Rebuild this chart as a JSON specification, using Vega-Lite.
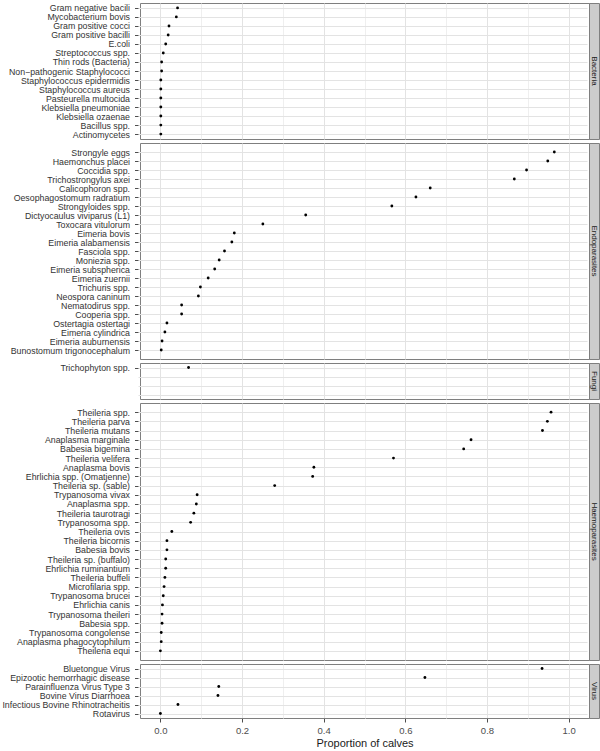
{
  "$schema": "https://vega.github.io/schema/vega-lite/v6.json",
  "padding": {"left": 1, "top": 2, "right": 3, "bottom": 0},
  "bounds": "flush",
  "datasets": {
    "pathogens": [
      {"group": "Bacteria", "pathogen": "Gram negative bacili", "proportion": 0.042},
      {"group": "Bacteria", "pathogen": "Mycobacterium bovis", "proportion": 0.039},
      {"group": "Bacteria", "pathogen": "Gram positive cocci", "proportion": 0.021},
      {"group": "Bacteria", "pathogen": "Gram positive bacilli", "proportion": 0.019},
      {"group": "Bacteria", "pathogen": "E.coli", "proportion": 0.013},
      {"group": "Bacteria", "pathogen": "Streptococcus spp.", "proportion": 0.007},
      {"group": "Bacteria", "pathogen": "Thin rods (Bacteria)", "proportion": 0.003},
      {"group": "Bacteria", "pathogen": "Non−pathogenic Staphylococci", "proportion": 0.003},
      {"group": "Bacteria", "pathogen": "Staphylococcus epidermidis", "proportion": 0.001},
      {"group": "Bacteria", "pathogen": "Staphylococcus aureus", "proportion": 0.001},
      {"group": "Bacteria", "pathogen": "Pasteurella multocida", "proportion": 0.001},
      {"group": "Bacteria", "pathogen": "Klebsiella pneumoniae", "proportion": 0.001},
      {"group": "Bacteria", "pathogen": "Klebsiella ozaenae", "proportion": 0.001},
      {"group": "Bacteria", "pathogen": "Bacillus spp.", "proportion": 0.001},
      {"group": "Bacteria", "pathogen": "Actinomycetes", "proportion": 0.001},
      {"group": "Endoparasites", "pathogen": "Strongyle eggs", "proportion": 0.965},
      {"group": "Endoparasites", "pathogen": "Haemonchus placei", "proportion": 0.949},
      {"group": "Endoparasites", "pathogen": "Coccidia spp.", "proportion": 0.897},
      {"group": "Endoparasites", "pathogen": "Trichostrongylus axei", "proportion": 0.867},
      {"group": "Endoparasites", "pathogen": "Calicophoron spp.", "proportion": 0.661},
      {"group": "Endoparasites", "pathogen": "Oesophagostomum radratium", "proportion": 0.626},
      {"group": "Endoparasites", "pathogen": "Strongyloides spp.", "proportion": 0.567},
      {"group": "Endoparasites", "pathogen": "Dictyocaulus viviparus (L1)", "proportion": 0.356},
      {"group": "Endoparasites", "pathogen": "Toxocara vitulorum", "proportion": 0.251},
      {"group": "Endoparasites", "pathogen": "Eimeria bovis", "proportion": 0.181},
      {"group": "Endoparasites", "pathogen": "Eimeria alabamensis", "proportion": 0.175},
      {"group": "Endoparasites", "pathogen": "Fasciola spp.", "proportion": 0.157},
      {"group": "Endoparasites", "pathogen": "Moniezia spp.", "proportion": 0.144},
      {"group": "Endoparasites", "pathogen": "Eimeria subspherica", "proportion": 0.133},
      {"group": "Endoparasites", "pathogen": "Eimeria zuernii", "proportion": 0.117},
      {"group": "Endoparasites", "pathogen": "Trichuris spp.", "proportion": 0.098},
      {"group": "Endoparasites", "pathogen": "Neospora caninum", "proportion": 0.093},
      {"group": "Endoparasites", "pathogen": "Nematodirus spp.", "proportion": 0.052},
      {"group": "Endoparasites", "pathogen": "Cooperia spp.", "proportion": 0.052},
      {"group": "Endoparasites", "pathogen": "Ostertagia ostertagi", "proportion": 0.016},
      {"group": "Endoparasites", "pathogen": "Eimeria cylindrica", "proportion": 0.011},
      {"group": "Endoparasites", "pathogen": "Eimeria auburnensis", "proportion": 0.004},
      {"group": "Endoparasites", "pathogen": "Bunostomum trigonocephalum", "proportion": 0.002},
      {"group": "Fungi", "pathogen": "Trichophyton spp.", "proportion": 0.069},
      {"group": "Haemoparasites", "pathogen": "Theileria spp.", "proportion": 0.957},
      {"group": "Haemoparasites", "pathogen": "Theileria parva", "proportion": 0.948},
      {"group": "Haemoparasites", "pathogen": "Theileria mutans", "proportion": 0.936},
      {"group": "Haemoparasites", "pathogen": "Anaplasma marginale", "proportion": 0.761},
      {"group": "Haemoparasites", "pathogen": "Babesia bigemina", "proportion": 0.743},
      {"group": "Haemoparasites", "pathogen": "Theileria velifera", "proportion": 0.571},
      {"group": "Haemoparasites", "pathogen": "Anaplasma bovis", "proportion": 0.376},
      {"group": "Haemoparasites", "pathogen": "Ehrlichia spp. (Omatjenne)", "proportion": 0.373},
      {"group": "Haemoparasites", "pathogen": "Theileria sp. (sable)", "proportion": 0.280},
      {"group": "Haemoparasites", "pathogen": "Trypanosoma vivax", "proportion": 0.090},
      {"group": "Haemoparasites", "pathogen": "Anaplasma spp.", "proportion": 0.088},
      {"group": "Haemoparasites", "pathogen": "Theileria taurotragi", "proportion": 0.082},
      {"group": "Haemoparasites", "pathogen": "Trypanosoma spp.", "proportion": 0.074},
      {"group": "Haemoparasites", "pathogen": "Theileria ovis", "proportion": 0.028},
      {"group": "Haemoparasites", "pathogen": "Theileria bicornis", "proportion": 0.016},
      {"group": "Haemoparasites", "pathogen": "Babesia bovis", "proportion": 0.016},
      {"group": "Haemoparasites", "pathogen": "Theileria sp. (buffalo)", "proportion": 0.013},
      {"group": "Haemoparasites", "pathogen": "Ehrlichia ruminantium", "proportion": 0.013},
      {"group": "Haemoparasites", "pathogen": "Theileria buffeli", "proportion": 0.011},
      {"group": "Haemoparasites", "pathogen": "Microfilaria spp.", "proportion": 0.009},
      {"group": "Haemoparasites", "pathogen": "Trypanosoma brucei", "proportion": 0.007},
      {"group": "Haemoparasites", "pathogen": "Ehrlichia canis", "proportion": 0.005},
      {"group": "Haemoparasites", "pathogen": "Trypanosoma theileri", "proportion": 0.004},
      {"group": "Haemoparasites", "pathogen": "Babesia spp.", "proportion": 0.004},
      {"group": "Haemoparasites", "pathogen": "Trypanosoma congolense", "proportion": 0.002},
      {"group": "Haemoparasites", "pathogen": "Anaplasma phagocytophilum", "proportion": 0.002},
      {"group": "Haemoparasites", "pathogen": "Theileria equi", "proportion": 0.0},
      {"group": "Virus", "pathogen": "Bluetongue Virus", "proportion": 0.935},
      {"group": "Virus", "pathogen": "Epizootic hemorrhagic disease", "proportion": 0.648},
      {"group": "Virus", "pathogen": "Parainfluenza Virus Type 3", "proportion": 0.143},
      {"group": "Virus", "pathogen": "Bovine Virus Diarrhoea", "proportion": 0.141},
      {"group": "Virus", "pathogen": "Infectious Bovine Rhinotracheitis", "proportion": 0.043},
      {"group": "Virus", "pathogen": "Rotavirus", "proportion": 0.0}
    ],
    "groups": [
      {"group": "Bacteria"},
      {"group": "Endoparasites"},
      {"group": "Fungi"},
      {"group": "Haemoparasites"},
      {"group": "Virus"}
    ]
  },
  "columns": 2,
  "spacing": {"row": 4, "column": 0},
  "concat": [
    {
      "width": 449, "height": 136,
      "data": {"name": "pathogens"},
      "transform": [{"filter": "datum.group === 'Bacteria'"}],
      "mark": {"type": "circle", "size": 8, "color": "black", "opacity": 1},
      "encoding": {
        "x": {"field": "proportion", "type": "quantitative", "scale": {"domain": [-0.05, 1.05], "nice": false, "zero": false},
              "axis": {"values": [0, 0.1, 0.2, 0.3, 0.4, 0.5, 0.6, 0.7, 0.8, 0.9, 1.0], "labels": false, "ticks": false, "domain": false, "title": null, "maxExtent": 0, "minExtent": 0,
                       "gridColor": {"condition": {"test": "round(datum.value*10) % 2 !== 0", "value": "#efefef"}, "value": "#e3e3e3"}}},
        "y": {"field": "pathogen", "type": "nominal", "sort": null, "scale": {"type": "point", "padding": 0.55}}
      }
    },
    {
      "width": 10, "height": 136,
      "data": {"name": "groups"},
      "transform": [{"filter": "datum.group === 'Bacteria'"}],
      "view": {"fill": "#cccccc", "stroke": "#7f7f7f"},
      "mark": {"type": "text", "angle": 90, "fontSize": 8, "color": "#1a1a1a", "baseline": "middle", "align": "center"},
      "encoding": {"text": {"field": "group"}}
    },
    {
      "width": 449, "height": 216,
      "data": {"name": "pathogens"},
      "transform": [{"filter": "datum.group === 'Endoparasites'"}],
      "mark": {"type": "circle", "size": 8, "color": "black", "opacity": 1},
      "encoding": {
        "x": {"field": "proportion", "type": "quantitative", "scale": {"domain": [-0.05, 1.05], "nice": false, "zero": false},
              "axis": {"values": [0, 0.1, 0.2, 0.3, 0.4, 0.5, 0.6, 0.7, 0.8, 0.9, 1.0], "labels": false, "ticks": false, "domain": false, "title": null, "maxExtent": 0, "minExtent": 0,
                       "gridColor": {"condition": {"test": "round(datum.value*10) % 2 !== 0", "value": "#efefef"}, "value": "#e3e3e3"}}},
        "y": {"field": "pathogen", "type": "nominal", "sort": null, "scale": {"type": "point", "padding": 1.0}}
      }
    },
    {
      "width": 10, "height": 216,
      "data": {"name": "groups"},
      "transform": [{"filter": "datum.group === 'Endoparasites'"}],
      "view": {"fill": "#cccccc", "stroke": "#7f7f7f"},
      "mark": {"type": "text", "angle": 90, "fontSize": 8, "color": "#1a1a1a", "baseline": "middle", "align": "center"},
      "encoding": {"text": {"field": "group"}}
    },
    {
      "width": 449, "height": 36,
      "data": {"name": "pathogens"},
      "transform": [{"filter": "datum.group === 'Fungi'"}],
      "mark": {"type": "circle", "size": 8, "color": "black", "opacity": 1},
      "encoding": {
        "x": {"field": "proportion", "type": "quantitative", "scale": {"domain": [-0.05, 1.05], "nice": false, "zero": false},
              "axis": {"values": [0, 0.1, 0.2, 0.3, 0.4, 0.5, 0.6, 0.7, 0.8, 0.9, 1.0], "labels": false, "ticks": false, "domain": false, "title": null, "maxExtent": 0, "minExtent": 0,
                       "gridColor": {"condition": {"test": "round(datum.value*10) % 2 !== 0", "value": "#efefef"}, "value": "#e3e3e3"}}},
        "y": {"field": "pathogen", "type": "nominal", "sort": null,
              "scale": {"type": "point", "padding": 0.5, "domain": ["Trichophyton spp.", " ", "  ", "   "]},
              "axis": {"tickOpacity": {"condition": {"test": "datum.value !== 'Trichophyton spp.'", "value": 0}, "value": 1}}}
      }
    },
    {
      "width": 10, "height": 36,
      "data": {"name": "groups"},
      "transform": [{"filter": "datum.group === 'Fungi'"}],
      "view": {"fill": "#cccccc", "stroke": "#7f7f7f"},
      "mark": {"type": "text", "angle": 90, "fontSize": 8, "color": "#1a1a1a", "baseline": "middle", "align": "center"},
      "encoding": {"text": {"field": "group"}}
    },
    {
      "width": 449, "height": 257,
      "data": {"name": "pathogens"},
      "transform": [{"filter": "datum.group === 'Haemoparasites'"}],
      "mark": {"type": "circle", "size": 8, "color": "black", "opacity": 1},
      "encoding": {
        "x": {"field": "proportion", "type": "quantitative", "scale": {"domain": [-0.05, 1.05], "nice": false, "zero": false},
              "axis": {"values": [0, 0.1, 0.2, 0.3, 0.4, 0.5, 0.6, 0.7, 0.8, 0.9, 1.0], "labels": false, "ticks": false, "domain": false, "title": null, "maxExtent": 0, "minExtent": 0,
                       "gridColor": {"condition": {"test": "round(datum.value*10) % 2 !== 0", "value": "#efefef"}, "value": "#e3e3e3"}}},
        "y": {"field": "pathogen", "type": "nominal", "sort": null, "scale": {"type": "point", "padding": 1.27}}
      }
    },
    {
      "width": 10, "height": 257,
      "data": {"name": "groups"},
      "transform": [{"filter": "datum.group === 'Haemoparasites'"}],
      "view": {"fill": "#cccccc", "stroke": "#7f7f7f"},
      "mark": {"type": "text", "angle": 90, "fontSize": 8, "color": "#1a1a1a", "baseline": "middle", "align": "center"},
      "encoding": {"text": {"field": "group"}}
    },
    {
      "width": 449, "height": 54,
      "data": {"name": "pathogens"},
      "transform": [{"filter": "datum.group === 'Virus'"}],
      "mark": {"type": "circle", "size": 8, "color": "black", "opacity": 1},
      "encoding": {
        "x": {"field": "proportion", "type": "quantitative", "scale": {"domain": [-0.05, 1.05], "nice": false, "zero": false},
              "axis": {"values": [0, 0.1, 0.2, 0.3, 0.4, 0.5, 0.6, 0.7, 0.8, 0.9, 1.0], "domain": false, "title": "Proportion of calves",
                       "labelExpr": "round(datum.value*10) % 2 === 0 ? format(datum.value, '.1f') : ''",
                       "tickOpacity": {"condition": {"test": "round(datum.value*10) % 2 !== 0", "value": 0}, "value": 1},
                       "tickSize": 4, "tickColor": "#4d4d4d", "labelFontSize": 9.5, "labelColor": "#4d4d4d", "labelPadding": 3,
                       "titleFontSize": 11, "titleFontWeight": "normal", "titleColor": "#1a1a1a", "titlePadding": 3,
                       "gridColor": {"condition": {"test": "round(datum.value*10) % 2 !== 0", "value": "#efefef"}, "value": "#e3e3e3"}}},
        "y": {"field": "pathogen", "type": "nominal", "sort": null, "scale": {"type": "point", "padding": 0.5}}
      }
    },
    {
      "width": 10, "height": 54,
      "data": {"name": "groups"},
      "transform": [{"filter": "datum.group === 'Virus'"}],
      "view": {"fill": "#cccccc", "stroke": "#7f7f7f"},
      "mark": {"type": "text", "angle": 90, "fontSize": 8, "color": "#1a1a1a", "baseline": "middle", "align": "center"},
      "encoding": {"text": {"field": "group"}}
    }
  ],
  "config": {
    "font": "Liberation Sans",
    "view": {"stroke": "#7f7f7f", "fill": "white"},
    "axisY": {"title": null, "grid": true, "gridColor": "#e3e3e3", "domain": false, "labelFontSize": 8.8, "labelColor": "#333333",
              "tickColor": "#4d4d4d", "tickSize": 3.5, "offset": 2, "labelPadding": 5},
    "axis": {"labelFont": "Liberation Sans", "titleFont": "Liberation Sans"}
  }
}
